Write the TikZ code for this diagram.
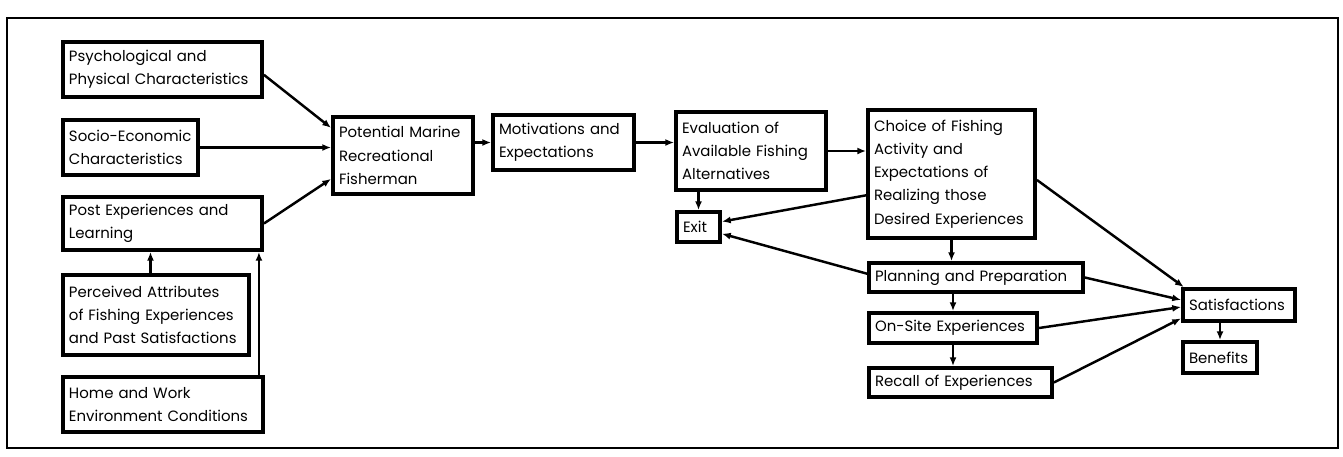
\documentclass[tikz,border=0pt]{standalone}
\usepackage{fontspec}
\setmainfont{Poppins}
\usepackage{tikz}
\usetikzlibrary{arrows.meta,calc}
\tikzset{
  stage/.style 2 args={
    draw,
    line width=2.2pt,
    text width=#1,
    minimum height=#2,
    inner xsep=1.2mm,
    inner ysep=0pt,
    align=left,
    font={\fontsize{8.5}{13.2}\selectfont}
  },
  flow/.style={
    line width=1.4pt,
    -{Latex[length=5pt,width=4pt]}
  },
  every picture/.style = {
    x=0.2mm,
    y=-0.2mm
  }
}
\begin{document}
\begin{tikzpicture}
  \useasboundingbox (0,0) rectangle (1343,456);
  \draw[line width=1.4pt] (7,18) rectangle (1338,448);
  % left column
  \node[stage={37.4mm}{11mm}] (psych) at (162.5,69.5) {Psychological and\\Physical Characteristics};
  \node[stage={24.6mm}{11mm}] (socio) at (130.5,147.5) {Socio-Economic\\Characteristics};
  \node[stage={37.4mm}{10.6mm}] (post) at (162.5,223.5) {Post Experiences and\\Learning};
  \node[stage={34.8mm}{16mm}] (perceived) at (156,315) {Perceived Attributes\\of Fishing Experiences\\and Past Satisfactions};
  \node[stage={37.6mm}{11mm}] (home) at (163,404.5) {Home and Work\\Environment Conditions};
  % middle
  \node[stage={25.6mm}{15.4mm}] (fisherman) at (403,155.5) {Potential Marine\\Recreational\\Fisherman};
  \node[stage={25.8mm}{11mm}] (motiv) at (563.5,142.5) {Motivations and\\Expectations};
  \node[stage={27.6mm}{15.6mm}] (eval) at (751,151) {Evaluation of\\Available Fishing\\Alternatives};
  \node[stage={6.2mm}{6mm}] (exit) at (698.5,227) {Exit};
  \node[stage={31mm}{25.6mm}] (choice) at (951.5,174) {Choice of Fishing\\Activity and\\Expectations of\\Realizing those\\Desired Experiences};
  % right column
  \node[stage={40.4mm}{5.8mm}] (plan) at (976,277.5) {Planning and Preparation};
  \node[stage={31.2mm}{6mm}] (onsite) at (953,328) {On-Site Experiences};
  \node[stage={34.2mm}{5.8mm}] (recall) at (960.5,382.5) {Recall of Experiences};
  \node[stage={20mm}{6.4mm}] (satisf) at (1239,305) {Satisfactions};
  \node[stage={12.4mm}{6.2mm}] (benefits) at (1220,357.5) {Benefits};

  \draw[flow] (psych.-3) -- (fisherman.159);
  \draw[flow] (socio.east) -- (socio.east -| fisherman.west);
  \draw[flow] (post.east) -- (fisherman.198);
  \draw[flow] ([xshift=-1.1mm]perceived.north) -- ([xshift=-1.1mm]perceived.north |- post.south);
  \draw[flow] ([xshift=-1.2mm]home.north east) -- ([xshift=-1.2mm]home.north east |- post.south);
  \draw[flow] (fisherman.east |- motiv.west) -- (motiv.west);
  \draw[flow] (motiv.east) -- (motiv.east -| eval.west);
  \draw[flow] (eval.east) -- (eval.east -| choice.west);
  \draw[flow] (eval.south -| exit.north) -- (exit.north);
  \draw[flow] (choice.194) -- (exit.13);
  \draw[flow] (plan.178) -- (exit.-16);
  \draw[flow] (choice.south) -- (choice.south |- plan.north);
  \draw[flow] (onsite.north |- plan.south) -- (onsite.north);
  \draw[flow] (onsite.south) -- (onsite.south |- recall.north);
  \draw[flow] (choice.-4) -- (satisf.162);
  \draw[flow] (plan.east) -- (satisf.175);
  \draw[flow] (onsite.east) -- (satisf.182);
  \draw[flow] (recall.east) -- (satisf.193);
  \draw[flow] (benefits.north |- satisf.south) -- (benefits.north);
\end{tikzpicture}
\end{document}
